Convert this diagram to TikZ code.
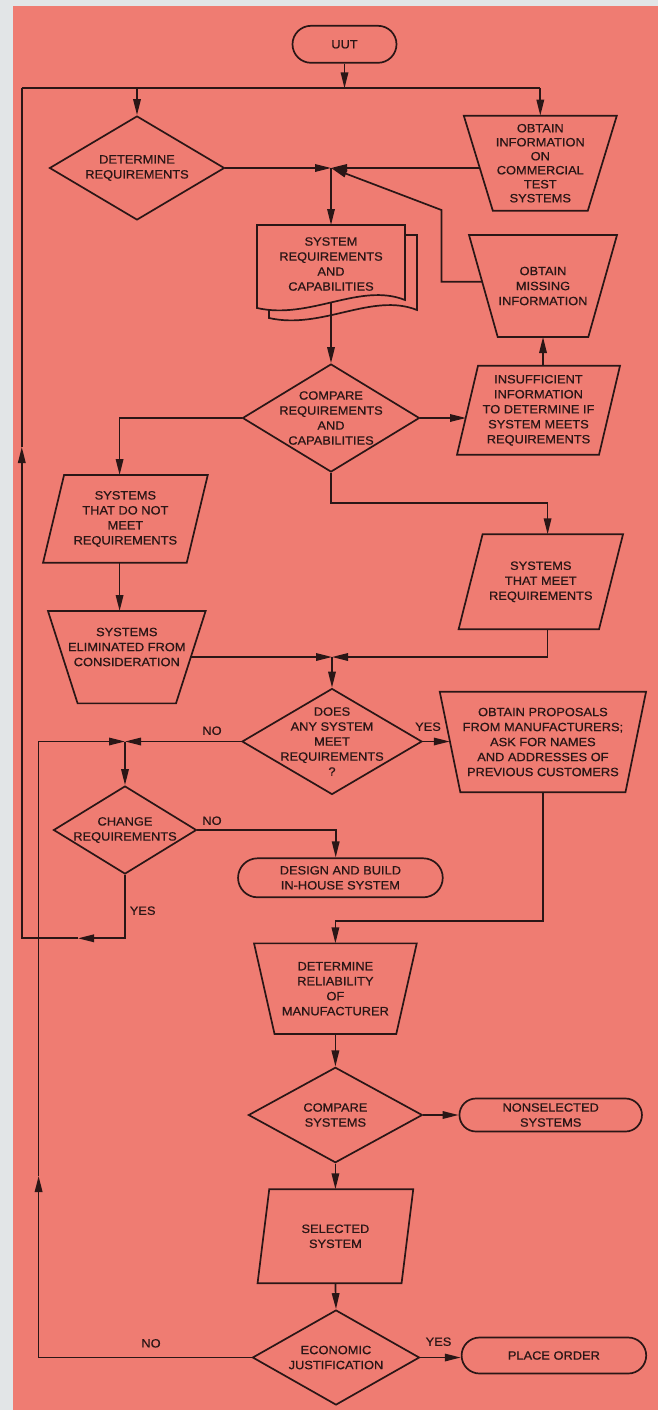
\documentclass[tikz,border=0pt]{standalone}
\usepackage{fontspec}
\newfontfamily\flowfamily{Liberation Sans}[FakeStretch=1.07,FakeBold=0.7]
\newcommand\flowfont{\flowfamily\fontsize{12}{15}\selectfont}
\usetikzlibrary{arrows.meta,shapes.geometric,shapes.misc,calc}
\definecolor{bgpink}{RGB}{239,124,114}
\definecolor{bgstrip}{RGB}{226,229,231}
\definecolor{lc}{RGB}{42,22,22}
\newcommand\itrapline[2]{\draw[shp] (#1.north west) -- (#1.north east) -- ([xshift=-#2]#1.south east) -- ([xshift=#2]#1.south west) -- cycle;}
\newcommand\paraline[2]{\draw[shp] ([xshift=#2]#1.north west) -- (#1.north east) -- ([xshift=-#2]#1.south east) -- (#1.south west) -- cycle;}
\tikzset{
  ln/.style={draw=lc, line width=1.7pt},
  arr/.style={ln, -{Triangle[length=16pt,width=7.5pt]}},
  shp/.style={draw=lc, line width=1.7pt, line join=miter},
  txt/.style={font=\flowfont, text=lc, align=center, inner sep=0pt, outer sep=0pt},
  term/.style={txt, rounded rectangle, draw=lc, line width=1.7pt, outer sep=0.85pt},
  dia/.style={txt, diamond, draw=lc, line width=1.7pt, inner sep=-16pt, aspect=1.7, outer sep=0.85pt},
  box/.style={txt, rectangle}
}
\begin{document}
\begin{tikzpicture}[x=1pt,y=-1pt]
\fill[bgstrip] (0,0) rectangle (658,1410);
\fill[bgpink] (12.5,6.5) rectangle (658,1410);
\useasboundingbox (0,0) rectangle (658,1410);

% ---------- nodes ----------
\node[term, minimum width=104pt, minimum height=37pt] (uut) at (344.5,44.3) {UUT};
\node[dia, minimum width=175pt, minimum height=104pt] (det) at (137,168) {DETERMINE\\REQUIREMENTS};
\node[box, minimum width=153pt, minimum height=95pt, font=\flowfamily\fontsize{12}{14}\selectfont] (info) at (540.3,163.2) {OBTAIN\\INFORMATION\\ON\\COMMERCIAL\\TEST\\SYSTEMS};
\itrapline{info}{29pt}

% document shape
\filldraw[shp, fill=bgpink] (269,235) -- (417,235) -- (417,310) .. controls (372,292) and (322,330) .. (269,318) -- cycle;
\filldraw[shp, fill=bgpink] (257,225) -- (405,225) -- (405,300) .. controls (360,282) and (310,320) .. (257,308) -- cycle;
\node[box, minimum width=148pt, minimum height=78pt] (doc) at (331,264) {SYSTEM\\REQUIREMENTS\\AND\\CAPABILITIES};

\node[box, minimum width=148pt, minimum height=102pt] (miss) at (543,286) {OBTAIN\\MISSING\\INFORMATION};
\itrapline{miss}{28.7pt}

\node[dia, minimum width=177pt, minimum height=108pt] (cmpreq) at (331,418) {COMPARE\\REQUIREMENTS\\AND\\CAPABILITIES};
\node[box, minimum width=163pt, minimum height=89pt] (insuf) at (538.5,410.3) {INSUFFICIENT\\INFORMATION\\TO DETERMINE IF\\SYSTEM MEETS\\REQUIREMENTS};
\paraline{insuf}{21pt}

\node[box, minimum width=164.7pt, minimum height=87.7pt] (nomeet) at (125.4,518.9) {SYSTEMS\\THAT DO NOT\\MEET\\REQUIREMENTS};
\paraline{nomeet}{21pt}

\node[box, minimum width=157.6pt, minimum height=92.3pt] (elim) at (126.8,657.2) {};
\itrapline{elim}{29.6pt}
\node[txt] (elimtext) at (126.8,647) {SYSTEMS\\ELIMINATED FROM\\CONSIDERATION};

\node[box, minimum width=164.4pt, minimum height=95pt] (meet) at (540.8,581.8) {SYSTEMS\\THAT MEET\\REQUIREMENTS};
\paraline{meet}{24pt}

\node[dia, minimum width=180pt, minimum height=106pt] (doesany) at (332,741.5) {DOES\\ANY SYSTEM\\MEET\\REQUIREMENTS\\?};
\node[box, minimum width=206.3pt, minimum height=100.6pt] (prop) at (542.9,742) {OBTAIN PROPOSALS\\FROM MANUFACTURERS;\\ASK FOR NAMES\\AND ADDRESSES OF\\PREVIOUS CUSTOMERS};
\itrapline{prop}{20.6pt}

\node[dia, minimum width=143pt, minimum height=88pt] (chg) at (125,830) {CHANGE\\REQUIREMENTS};
\node[term, minimum width=204.7pt, minimum height=39pt] (design) at (340.4,877.8) {DESIGN AND BUILD\\IN-HOUSE SYSTEM};

\node[box, minimum width=162.7pt, minimum height=90.7pt] (rel) at (335.4,988.7) {DETERMINE\\RELIABILITY\\OF\\MANUFACTURER};
\itrapline{rel}{20.5pt}

\node[dia, minimum width=174pt, minimum height=95.4pt] (cmpsys) at (335.4,1115) {COMPARE\\SYSTEMS};
\node[term, minimum width=182.5pt, minimum height=33pt] (nonsel) at (550.7,1115) {NONSELECTED\\SYSTEMS};

\node[box, minimum width=155.7pt, minimum height=94pt] (sel) at (335.4,1236.3) {SELECTED\\SYSTEM};
\paraline{sel}{11.7pt}

\node[dia, minimum width=167pt, minimum height=95pt] (econ) at (336,1357.5) {ECONOMIC\\JUSTIFICATION};
\node[term, minimum width=184.6pt, minimum height=36pt] (order) at (553.9,1355.5) {PLACE ORDER};

% ---------- labels ----------
\node[txt] (lno1) at (212,730.7) {NO};
\node[txt] (lyes1) at (428,726.7) {YES};
\node[txt] (lno2) at (212,820.7) {NO};
\node[txt] (lyes2) at (142.7,910.7) {YES};
\node[txt] (lno3) at (151,1343.3) {NO};
\node[txt] (lyes3) at (438.5,1341.7) {YES};

% ---------- coordinates ----------
\coordinate (tl) at (21.8,88.3);
\coordinate (tr) at (540.3,88.3);
\coordinate (j1) at (331,168);
\coordinate (m1) at (441.4,281.7);
\coordinate (m2) at (441.4,210);
\coordinate (c1) at (119.6,418);
\coordinate (c2) at (547.6,503.3);
\coordinate (j2) at (332,657);
\coordinate (j3) at (125,741.5);
\coordinate (c3) at (335.7,830);
\coordinate (c4) at (335.4,920.7);
\coordinate (c5) at (125,938.3);
\coordinate (ya) at (78,938.3);
\coordinate (yl) at (21.8,938.3);
\coordinate (ua) at (21.8,447);
\coordinate (n1) at (38.6,1357.5);
\coordinate (na) at (38.6,1176);
\coordinate (n2) at (38.6,741.5);

% ---------- connectors ----------
\draw[arr] (uut.south) -- (uut.south |- tl);
\draw[ln] (tl) -- (tr);
\draw[arr] (det.north |- tl) -- (det.north);
\draw[arr] (tr) -- (info.north);

\draw[arr] (det.east) -- (j1);
\draw[arr] ($(info.west |- j1)+(16,0)$) -- (j1);
\draw[arr] ($(miss.west |- m1)+(13,0)$) -- (m1) -- (m2) -- (j1);
\draw[arr] (j1) -- (doc.north);

\draw[arr] (doc.south) -- (cmpreq.north);
\draw[arr] (cmpreq.east) -- ($(insuf.west |- cmpreq.east)+(9,0)$);
\draw[arr] (miss.south |- insuf.north) -- (miss.south);

\draw[arr] (cmpreq.west) -- (c1) -- (c1 |- nomeet.north);
\draw[arr] (c1 |- nomeet.south) -- (c1 |- elim.north);
\draw[arr] (cmpreq.south) -- (cmpreq.south |- c2) -- (c2) -- (c2 |- meet.north);

\draw[arr] ($(elim.east |- j2)+(-15,0)$) -- (j2);
\draw[arr] (c2 |- meet.south) -- (c2 |- j2) -- (j2);
\draw[arr] (j2) -- (doesany.north);

\draw[arr] (doesany.east) -- ($(prop.west |- doesany.east)+(10,0)$);
\draw[arr] (prop.south) -- (prop.south |- c4) -- (c4) -- (rel.north);

\draw[arr] (doesany.west) -- (j3);
\draw[arr] (j3) -- (chg.north);
\draw[arr] (chg.east) -- (c3) -- (c3 |- design.north);

\draw[arr] (chg.south) -- (c5) -- (ya);
\draw[arr] (ya) -- (yl) -- (ua);
\draw[ln] (ua) -- (tl);

\draw[arr] (rel.south) -- (cmpsys.north);
\draw[arr] (cmpsys.east) -- (nonsel.west);
\draw[arr] (cmpsys.south) -- (sel.north);
\draw[arr] (sel.south) -- (econ.north);
\draw[arr] (econ.east) -- (order.west |- econ.east);

\draw[arr] (econ.west) -- (n1) -- (na);
\draw[arr] (na) -- (n2) -- (j3);
\end{tikzpicture}
\end{document}
